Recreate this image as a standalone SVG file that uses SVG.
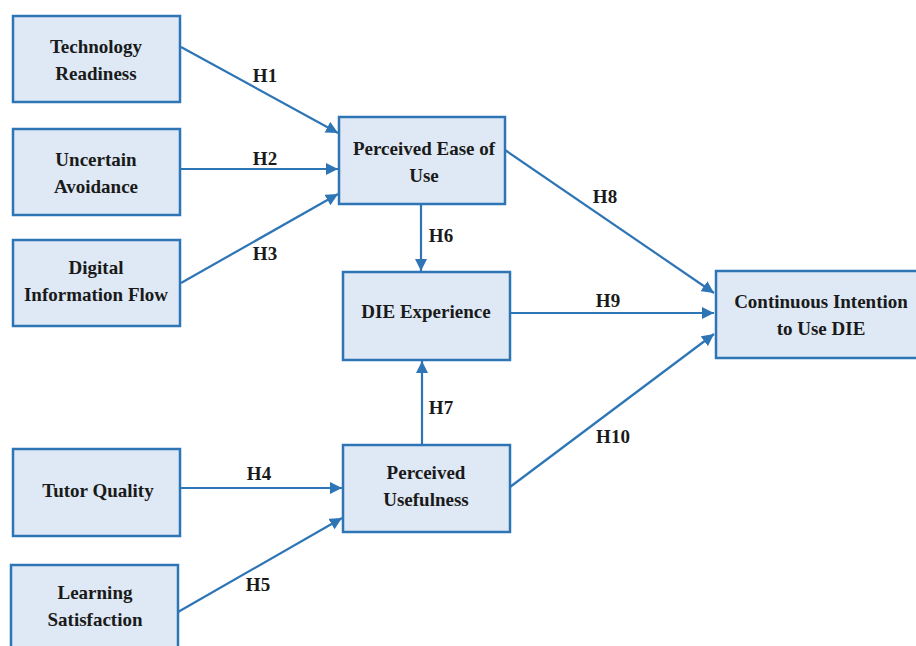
<svg xmlns="http://www.w3.org/2000/svg" width="916" height="646" viewBox="0 0 916 646">
<style>
.box{fill:#dee9f5;stroke:#2e75b6;stroke-width:2.5}
.t{font-family:"Liberation Serif",serif;font-weight:bold;font-size:19px;fill:#1a1a1a;text-anchor:middle}
.c{stroke:#2e75b6;stroke-width:2.2;fill:none;marker-end:url(#ah)}
.l{font-family:"Liberation Serif",serif;font-weight:bold;font-size:19px;fill:#1a1a1a;text-anchor:middle}
</style>
<defs>
<marker id="ah" viewBox="0 0 10 10" refX="10" refY="5" markerWidth="5.5" markerHeight="5.5" orient="auto" markerUnits="strokeWidth">
<path d="M0,0 L10,5 L0,10 z" fill="#2e75b6"/>
</marker>
</defs>
<rect width="916" height="646" fill="#ffffff"/>
<g id="connectors">
<line class="c" x1="181" y1="47" x2="338" y2="133"/>
<line class="c" x1="181" y1="169" x2="338" y2="169"/>
<line class="c" x1="181" y1="283" x2="338" y2="194"/>
<line class="c" x1="181" y1="488" x2="342" y2="488"/>
<line class="c" x1="178" y1="612" x2="342" y2="518"/>
<line class="c" x1="421" y1="204" x2="421" y2="271"/>
<line class="c" x1="422" y1="445" x2="422" y2="361"/>
<line class="c" x1="505" y1="150" x2="714" y2="293"/>
<line class="c" x1="510" y1="313" x2="714" y2="313"/>
<line class="c" x1="510" y1="487" x2="714" y2="334"/>
<text class="l" x="265" y="82">H1</text>
<text class="l" x="265" y="165">H2</text>
<text class="l" x="265" y="260">H3</text>
<text class="l" x="259" y="480">H4</text>
<text class="l" x="258" y="591">H5</text>
<text class="l" x="441" y="242">H6</text>
<text class="l" x="441" y="414">H7</text>
<text class="l" x="605" y="203">H8</text>
<text class="l" x="608" y="307">H9</text>
<text class="l" x="613" y="443">H10</text>
</g>
<g id="technology-readiness">
<rect class="box" x="13" y="16" width="167" height="86"/>
<text class="t" x="96" y="53">Technology</text>
<text class="t" x="96" y="80">Readiness</text>
</g>
<g id="uncertain-avoidance">
<rect class="box" x="13" y="129" width="167" height="86"/>
<text class="t" x="96" y="166">Uncertain</text>
<text class="t" x="96" y="193">Avoidance</text>
</g>
<g id="digital-information-flow">
<rect class="box" x="13" y="240" width="167" height="86"/>
<text class="t" x="96" y="274">Digital</text>
<text class="t" x="96" y="301">Information Flow</text>
</g>
<g id="tutor-quality">
<rect class="box" x="13" y="449" width="167" height="87"/>
<text class="t" x="98" y="497">Tutor Quality</text>
</g>
<g id="learning-satisfaction">
<rect class="box" x="11" y="565" width="167" height="90"/>
<text class="t" x="95" y="599">Learning</text>
<text class="t" x="95" y="626">Satisfaction</text>
</g>
<g id="perceived-ease-of-use">
<rect class="box" x="339" y="117" width="166" height="87"/>
<text class="t" x="424" y="155">Perceived Ease of</text>
<text class="t" x="424" y="182">Use</text>
</g>
<g id="die-experience">
<rect class="box" x="343" y="272" width="167" height="88"/>
<text class="t" x="426" y="318">DIE Experience</text>
</g>
<g id="perceived-usefulness">
<rect class="box" x="343" y="445" width="167" height="87"/>
<text class="t" x="426" y="479">Perceived</text>
<text class="t" x="426" y="506">Usefulness</text>
</g>
<g id="continuous-intention">
<rect class="box" x="716" y="271" width="205" height="87"/>
<text class="t" x="821" y="308">Continuous Intention</text>
<text class="t" x="821" y="335">to Use DIE</text>
</g>
</svg>
